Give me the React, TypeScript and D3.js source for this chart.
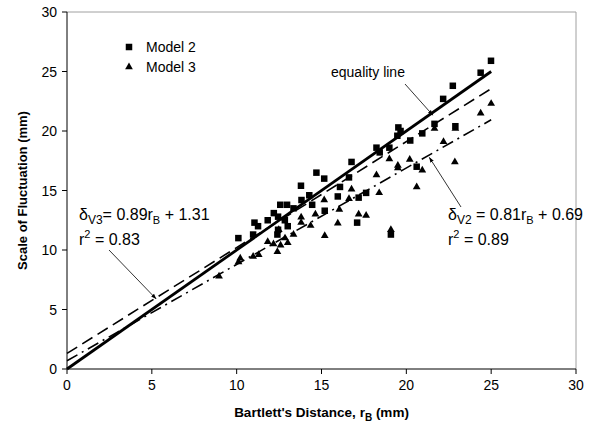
import React from 'react';
import * as d3 from 'd3';

const W = 608;
const H = 428;
const margin = { left: 67, right: 32, top: 12, bottom: 59 };

const xTicks = [0, 5, 10, 15, 20, 25, 30];
const yTicks = [0, 5, 10, 15, 20, 25, 30];

// Model 2 observations (Bartlett's distance, scale of fluctuation)
const model2X = [10.1, 10.97, 11.05, 11.26, 11.83, 12.19, 12.4, 12.44, 12.44, 12.57, 12.84, 12.97, 13.01, 13.35, 13.79, 13.82, 14.28, 14.45, 14.7, 15.16, 15.19, 15.96, 16.09, 16.62, 16.77, 17.1, 17.19, 17.63, 18.24, 18.43, 19.0, 19.09, 19.47, 19.53, 19.66, 20.23, 20.61, 20.94, 21.66, 22.17, 22.74, 22.89, 24.38, 24.99];
const model2Y = [11.0, 11.3, 12.3, 12.0, 12.5, 13.1, 11.3, 12.8, 11.7, 13.8, 12.5, 13.8, 12.0, 13.5, 15.4, 14.2, 14.6, 13.8, 16.5, 16.0, 13.3, 14.5, 15.3, 16.1, 17.4, 12.3, 14.4, 14.8, 18.6, 18.2, 18.6, 11.3, 19.6, 20.3, 20.0, 19.2, 17.0, 19.8, 20.6, 22.7, 23.8, 20.4, 24.9, 25.9];

// Model 3 observations
const model3X = [8.96, 10.11, 10.21, 10.97, 11.3, 11.83, 12.17, 12.4, 12.48, 12.59, 12.85, 13.01, 13.35, 13.8, 13.8, 14.36, 14.64, 15.16, 15.19, 15.96, 16.05, 16.62, 16.77, 17.19, 17.63, 18.24, 18.4, 19.0, 19.09, 19.5, 19.5, 20.2, 20.61, 20.94, 21.66, 22.19, 22.86, 22.89, 24.38, 25.0];
const model3Y = [7.8, 9.0, 9.3, 9.45, 9.6, 10.7, 10.5, 9.85, 11.7, 10.4, 11.0, 10.6, 11.3, 12.75, 12.3, 12.05, 13.0, 14.2, 11.2, 12.25, 13.4, 14.3, 15.1, 13.0, 12.9, 16.3, 14.8, 17.65, 11.7, 17.1, 16.9, 17.6, 15.3, 16.7, 20.2, 19.1, 17.4, 20.2, 21.5, 22.3];

// Regression lines: [slope, intercept]
const equalityFit = [1, 0];
const fitV3 = [0.89, 1.31];
const fitV2 = [0.81, 0.69];
const fitRange = [0, 25];

const seriesNames = ['Model 2', 'Model 3'];

const FONT = 'Liberation Sans, Arial, sans-serif';

export default function App() {
  const x = d3.scaleLinear().domain([0, 30]).range([margin.left, W - margin.right]);
  const y = d3.scaleLinear().domain([0, 30]).range([H - margin.bottom, margin.top]);

  const lineGen = d3
    .line<number[]>()
    .x((d) => x(d[0]))
    .y((d) => y(d[1]));
  const fitPath = (f: number[]) => lineGen(fitRange.map((v) => [v, f[0] * v + f[1]])) || '';

  const sq = 6.5;
  const tri = d3.symbol().type(d3.symbolTriangle).size(26)() || '';

  const x0 = x(0);
  const y0 = y(0);
  const x1 = x(30);
  const y1 = y(30);

  const eqX = 21.5;
  const v3X = 5.25;
  const v2X = 21.3;

  return (
    <svg
      width={W}
      height={H}
      style={{ position: 'absolute', left: 0, top: 0, background: '#fff' }}
      fontFamily={FONT}
    >
      <defs>
        <marker id="arrow" viewBox="0 0 10 10" refX="9" refY="5" markerWidth="7" markerHeight="7" orient="auto">
          <path d="M0,1.5 L10,5 L0,8.5 Z" fill="#000" />
        </marker>
      </defs>
      <rect x={0} y={0} width={W} height={H} fill="#fff" />

      {/* plot frame: top and right edges */}
      <line x1={x0} y1={y1} x2={x1} y2={y1} stroke="#a0a0a0" strokeWidth={1} />
      <line x1={x1} y1={y1} x2={x1} y2={y0} stroke="#a0a0a0" strokeWidth={1} />

      {/* regression and equality lines */}
      <path d={fitPath(fitV3)} fill="none" stroke="#000" strokeWidth={1.6} strokeDasharray="12,6" />
      <path d={fitPath(fitV2)} fill="none" stroke="#000" strokeWidth={1.6} strokeDasharray="12,5,2,5" />
      <path d={fitPath(equalityFit)} fill="none" stroke="#000" strokeWidth={2.8} />

      {/* Model 2 squares */}
      {model2X.map((v, i) => (
        <rect key={'m2' + i} x={x(v) - sq / 2} y={y(model2Y[i]) - sq / 2} width={sq} height={sq} fill="#000" />
      ))}
      {/* Model 3 triangles */}
      {model3X.map((v, i) => (
        <path key={'m3' + i} d={tri} transform={`translate(${x(v)},${y(model3Y[i])})`} fill="#000" />
      ))}

      {/* axes */}
      <line x1={x0} y1={y0} x2={x1} y2={y0} stroke="#000" strokeWidth={1} />
      <line x1={x0} y1={y0} x2={x0} y2={y1} stroke="#000" strokeWidth={1} />
      {xTicks.map((t) => (
        <g key={'xt' + t}>
          <line x1={x(t)} y1={y0} x2={x(t)} y2={y0 + 5} stroke="#000" />
          <text x={x(t)} y={y0 + 21} textAnchor="middle" fontSize={14}>
            {t}
          </text>
        </g>
      ))}
      {yTicks.map((t) => (
        <g key={'yt' + t}>
          <line x1={x0 - 5} y1={y(t)} x2={x0} y2={y(t)} stroke="#000" />
          <text x={x0 - 10} y={y(t) + 5} textAnchor="end" fontSize={14}>
            {t}
          </text>
        </g>
      ))}

      {/* axis titles */}
      <text x={(x0 + x1) / 2} y={H - 11} textAnchor="middle" fontSize={13.5} fontWeight="bold">
        Bartlett's Distance, r<tspan dy={4} fontSize={10}>B</tspan>
        <tspan dy={-4}> (mm)</tspan>
      </text>
      <text
        transform={`translate(${27},${(y0 + y1) / 2}) rotate(-90)`}
        textAnchor="middle"
        fontSize={13}
        fontWeight="bold"
      >
        Scale of Fluctuation (mm)
      </text>

      {/* legend */}
      <rect x={129 - sq / 2} y={47 - sq / 2} width={sq} height={sq} fill="#000" />
      <text x={146} y={52} fontSize={14}>
        {seriesNames[0]}
      </text>
      <path d={tri} transform="translate(129,67)" fill="#000" />
      <text x={146} y={72} fontSize={14}>
        {seriesNames[1]}
      </text>

      {/* equality line label */}
      <text x={331} y={77} fontSize={14}>
        equality line
      </text>
      <line x1={405} y1={84} x2={x(eqX) + 1} y2={y(eqX) + 2} stroke="#000" strokeWidth={0.8} markerEnd="url(#arrow)" />

      {/* Model 3 fit label */}
      <text x={79} y={220} fontSize={16}>
        δ<tspan dy={4} fontSize={12}>V3</tspan>
        <tspan dy={-4}>= {fitV3[0]}r</tspan>
        <tspan dy={4} fontSize={11}>B</tspan>
        <tspan dy={-4}> + {fitV3[1]}</tspan>
      </text>
      <text x={79} y={245} fontSize={16}>
        r<tspan dy={-7} fontSize={11}>2</tspan>
        <tspan dy={7}> = 0.83</tspan>
      </text>
      <line x1={109} y1={250} x2={x(v3X)} y2={y(fitV3[0] * v3X + fitV3[1]) + 1} stroke="#000" strokeWidth={0.8} markerEnd="url(#arrow)" />

      {/* Model 2 fit label */}
      <text x={448} y={220} fontSize={16}>
        δ<tspan dy={4} fontSize={12}>V2</tspan>
        <tspan dy={-4}> = {fitV2[0]}r</tspan>
        <tspan dy={4} fontSize={11}>B</tspan>
        <tspan dy={-4}> + {fitV2[1]}</tspan>
      </text>
      <text x={448} y={245} fontSize={16}>
        r<tspan dy={-7} fontSize={11}>2</tspan>
        <tspan dy={7}> = 0.89</tspan>
      </text>
      <line x1={461} y1={207} x2={x(v2X) + 1} y2={y(fitV2[0] * v2X + fitV2[1]) + 2} stroke="#000" strokeWidth={0.8} markerEnd="url(#arrow)" />
    </svg>
  );
}
